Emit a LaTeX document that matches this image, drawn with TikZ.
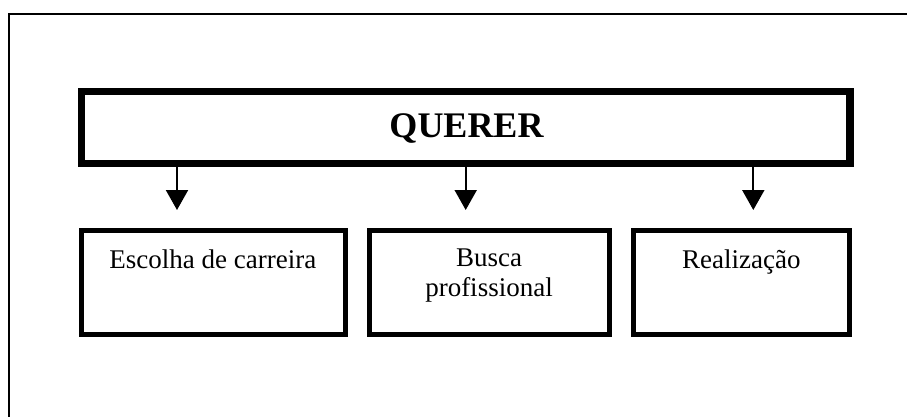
\documentclass[tikz,border=0pt]{standalone}
\usepackage{fontspec}
\setmainfont{Liberation Serif}
\usetikzlibrary{arrows.meta}
\begin{document}
\begin{tikzpicture}[x=1pt,y=-1pt,
  headbox/.style={draw,line width=7.5pt,minimum width=768.7pt,minimum height=72pt,inner sep=0pt},
  subbox/.style={draw,line width=5pt,minimum height=104pt,inner sep=0pt},
  lbl/.style={anchor=base,inner sep=0pt,font=\fontsize{27}{31}\selectfont},
  arr/.style={line width=2pt,-{Triangle[length=20pt,width=22pt]}},
  frame/.style={line width=2pt}]
\useasboundingbox (0,0) rectangle (907,417);
% outer frame (cropped)
\coordinate (fb) at (8.7,417);
\coordinate (fc) at (8.7,14);
\coordinate (fr) at (907,14);
\draw[frame] (fb) -- (fc) -- (fr);
% head box
\node[headbox] (q) at (465.7,127.3) {};
\node[anchor=base,inner sep=0pt,font=\fontsize{36}{40}\selectfont\bfseries] (qt) at (466.5,137.3) {QUERER};
% sub boxes
\node[subbox,minimum width=264.8pt] (b1) at (213.4,282.3) {};
\node[subbox,minimum width=240.4pt] (b2) at (489.5,282.3) {};
\node[subbox,minimum width=216.6pt] (b3) at (741.5,282.3) {};
\node[lbl] (t1) at (212.8,268) {Escolha de carreira};
\node[lbl] (t2a) at (489,266) {Busca};
\node[lbl] (t2b) at (489,296.7) {profissional};
\node[lbl] (t3) at (741.3,268.3) {Realização};
% arrows
\coordinate (a1) at (177,210);
\coordinate (a2) at (465.7,210);
\coordinate (a3) at (753.3,210);
\draw[arr] (q.south -| a1) -- (a1);
\draw[arr] (q.south -| a2) -- (a2);
\draw[arr] (q.south -| a3) -- (a3);
\end{tikzpicture}
\end{document}
